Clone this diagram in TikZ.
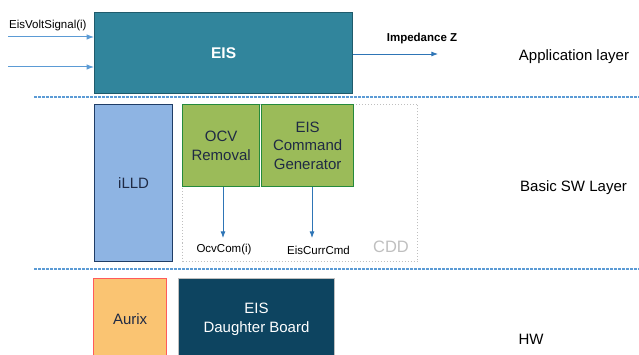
\documentclass[tikz,border=0pt]{standalone}
\usepackage{fontspec}
\setmainfont{Liberation Sans}
\usetikzlibrary{arrows.meta}

\definecolor{eisfill}{HTML}{31859C}
\definecolor{eisdraw}{HTML}{1F5B6C}
\definecolor{illdfill}{HTML}{8EB4E3}
\definecolor{illddraw}{HTML}{1F3D66}
\definecolor{greenfill}{HTML}{9BBB59}
\definecolor{greendraw}{HTML}{258A3C}
\definecolor{aurixfill}{HTML}{FAC472}
\definecolor{aurixdraw}{HTML}{FF5A5A}
\definecolor{boardfill}{HTML}{0D4460}
\definecolor{layerline}{HTML}{5B9BD5}
\definecolor{arrowblue}{HTML}{2E75B6}
\definecolor{textdark}{HTML}{1F2A44}

\tikzset{
    block/.style = {
        draw, line width = 1.2pt, anchor = north west,
        inner sep = 0pt, align = center, font = \fontsize{15}{18.5}\selectfont
    },
    signal/.style = {font = \fontsize{11.5}{13}\selectfont},
    layer/.style = {font = \fontsize{15}{18}\selectfont},
    sep/.style = {draw = layerline, line width = 1.2pt, dash pattern = on 3pt off 1pt}
}

\begin{document}
\begin{tikzpicture}[> = Latex, x = 1pt, y = -1pt]

        \useasboundingbox (0, 0) rectangle (639, 355);
        \clip (0, 0) rectangle (639, 355);

        % Application layer block.
        \node[block, fill = eisfill, draw = eisdraw, text = white,
              minimum width = 258pt, minimum height = 81pt,
              font = \fontsize{15.5}{18}\selectfont\bfseries] (eis) at (94, 12) {EIS};

        % Basic SW layer blocks.
        \node[draw = black!25, line width = 1pt, dotted, anchor = north west,
              minimum width = 235pt, minimum height = 157pt] (cdd) at (182, 104) {};
        \node[block, fill = illdfill, draw = illddraw, text = textdark,
              minimum width = 78pt, minimum height = 157pt] (illd) at (94, 104) {iLLD};
        \node[block, fill = greenfill, draw = greendraw, text = textdark,
              minimum width = 77pt, minimum height = 82pt] (ocv) at (182, 104) {OCV\\Removal};
        \node[block, fill = greenfill, draw = greendraw, text = textdark,
              minimum width = 92pt, minimum height = 82pt] (cmd) at (261, 104) {EIS\\Command\\Generator};
        \node[text = black!25, font = \fontsize{16.5}{18}\selectfont] (cddlabel) at (391, 247) {CDD};

        % HW blocks.
        \node[block, fill = aurixfill, draw = aurixdraw, text = textdark,
              minimum width = 73pt, minimum height = 82pt] (aurix) at (93, 278) {Aurix};
        \node[block, fill = boardfill, draw = black!25, line width = 1pt, text = white,
              minimum width = 156pt, minimum height = 82pt] (board) at (178, 278) {EIS\\Daughter Board};

        % Layer separators.
        \coordinate (S1L) at (34, 97);
        \coordinate (S1R) at (639, 97);
        \coordinate (S2L) at (34, 269);
        \coordinate (S2R) at (639, 269);
        \draw[sep] (S1L) to (S1R);
        \draw[sep] (S2L) to (S2R);

        % Input and output signals of EIS.
        \coordinate (In1) at (8, 37);
        \coordinate (In2) at (8, 67);
        \coordinate (Out) at (438, 54);
        \draw[->, layerline, line width = 1pt] (In1) to (In1 -| eis.west);
        \draw[->, layerline, line width = 1pt] (In2) to (In2 -| eis.west);
        \node[signal, anchor = south west, inner sep = 0pt] (voltlabel) at (9, 31) {EisVoltSignal(i)};
        \draw[->, arrowblue, line width = 0.8pt] (Out -| eis.east) to (Out);
        \node[signal, font = \fontsize{11.5}{13}\selectfont\bfseries] (zlabel) at (422, 39) {Impedance Z};

        % Commands from the CDD blocks.
        \coordinate (OcvEnd) at (223, 238);
        \coordinate (CmdEnd) at (312, 238);
        \draw[->, arrowblue, line width = 0.8pt] (ocv.south -| OcvEnd) to (OcvEnd);
        \draw[->, arrowblue, line width = 0.8pt] (cmd.south -| CmdEnd) to (CmdEnd);
        \node[signal] (ocvlabel) at (224, 250) {OcvCom(i)};
        \node[signal] (cmdlabel) at (318.5, 250) {EisCurrCmd};

        % Layer names.
        \node[layer] (app) at (574, 57) {Application layer};
        \node[layer] (bsw) at (573.5, 188) {Basic SW Layer};
        \node[layer] (hw) at (531, 339) {HW};
    \end{tikzpicture}
\end{document}
